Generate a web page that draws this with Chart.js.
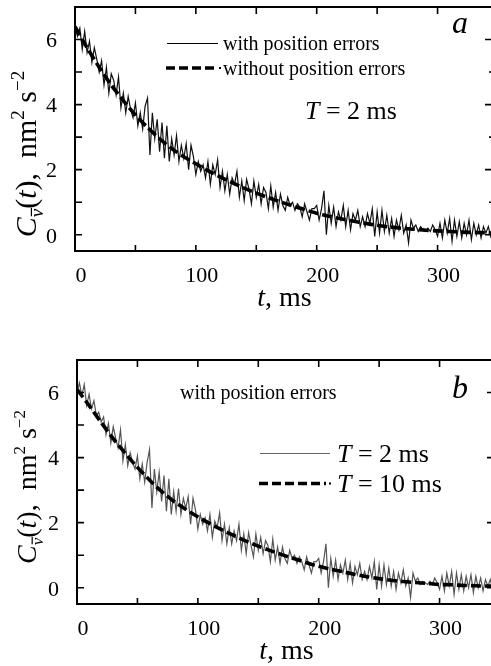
<!DOCTYPE html>
<html>
<head>
<meta charset="utf-8">
<script src="https://cdn.jsdelivr.net/npm/chart.js@4.4.0/dist/chart.umd.min.js"></script>
<style>
  html, body { margin: 0; padding: 0; background: #fff; overflow: hidden; width: 491px; height: 666px; }
  .panel { position: absolute; left: 0; }
</style>
</head>
<body>
<div class="panel" style="top:0"><canvas id="chartA" width="500" height="320"></canvas></div>
<div class="panel" style="top:353px"><canvas id="chartB" width="502" height="313"></canvas></div>
<script>
// time step of the noisy correlation curves, ms
const sampleStepMs = 2;

// panel a, T = 2 ms, with position errors
const noisyA = [
  6.4, 6.1, 6.35, 5.7, 6.25, 5.6, 5.95, 5.3, 5.75, 5.4,
  5.0, 5.35, 4.6, 5.15, 4.35, 4.95, 4.75, 4.3, 4.85, 3.9,
  4.35, 3.75, 4.25, 3.85, 3.6, 4.05, 3.35, 3.75, 3.25, 3.95,
  4.2, 2.45, 3.75, 2.95, 3.55, 2.55, 3.45, 2.35, 3.35, 2.25,
  2.95, 2.45, 3.05, 2.25, 2.75, 2.35, 2.8, 2.0, 2.75, 2.4,
  1.85, 2.25, 1.95, 2.15, 1.75, 2.25, 1.55, 2.15, 1.85, 2.3,
  1.45, 1.95, 1.35, 1.85, 1.25, 1.75, 1.55, 1.95, 1.15, 1.65,
  1.05, 1.7, 1.4, 0.95, 1.65, 1.15, 1.55, 0.95, 1.45, 1.3,
  0.8, 1.5, 0.85, 1.3, 0.75, 1.25, 0.9, 0.75, 1.15, 0.9,
  1.0, 0.75, 0.95, 0.85, 0.55, 0.95, 0.7, 0.45, 0.8, 0.8,
  0.9, 0.45, 0.8, 1.35, 0.0, 0.9, 0.35, 0.85, 0.25, 0.7,
  0.45, 0.9, 0.25, 0.75, 0.15, 0.65, 0.45, 0.75, 0.25, 0.55,
  0.25, 0.65, 0.35, 0.8, -0.05, 0.7, 0.05, 0.75, 0.1, 0.6,
  0.05, 0.5, -0.05, 0.45, 0.15, 0.6, 0.05, 0.3, -0.25, 0.45,
  0.2, 0.3, 0.1, 0.25, 0.15, 0.1, 0.2, 0.1, 0.3, 0.15,
  -0.05, 0.35, -0.1, 0.45, 0.05, 0.5, -0.2, 0.45, -0.05, 0.4,
  -0.1, 0.35, 0.0, 0.45, -0.15, 0.35, 0.0, 0.3, -0.1, 0.25,
  0.05, 0.25, -0.05, 0.15
];

// panel b, T = 2 ms
const noisyB = [
  6.0, 6.3, 5.9, 6.25, 5.6, 5.95, 5.5, 5.75, 5.3, 5.4,
  5.1, 5.25, 4.7, 5.05, 4.45, 4.95, 4.6, 4.3, 4.85, 3.9,
  4.4, 3.75, 4.15, 3.85, 3.65, 4.05, 3.35, 3.8, 3.25, 3.85,
  4.25, 2.45, 3.65, 2.95, 3.55, 2.65, 3.45, 2.35, 3.35, 2.25,
  2.95, 2.35, 3.05, 2.25, 2.75, 2.45, 2.8, 1.95, 2.75, 2.4,
  1.8, 2.25, 1.95, 2.15, 1.75, 2.25, 1.55, 2.05, 1.85, 2.3,
  1.45, 1.95, 1.35, 1.85, 1.35, 1.75, 1.45, 1.95, 1.15, 1.65,
  1.05, 1.7, 1.3, 0.95, 1.65, 1.15, 1.55, 1.05, 1.45, 1.3,
  0.8, 1.5, 0.85, 1.25, 0.75, 1.25, 0.9, 0.75, 1.15, 0.9,
  1.0, 0.75, 0.95, 0.8, 0.55, 0.95, 0.7, 0.45, 0.8, 0.8,
  0.9, 0.45, 0.8, 1.35, 0.0, 0.9, 0.35, 0.85, 0.25, 0.7,
  0.45, 0.85, 0.25, 0.75, 0.15, 0.65, 0.4, 0.75, 0.25, 0.5,
  0.25, 0.65, 0.3, 0.8, -0.05, 0.7, 0.05, 0.7, 0.1, 0.6,
  0.05, 0.5, -0.05, 0.45, 0.15, 0.55, 0.05, 0.3, -0.3, 0.45,
  0.2, 0.3, 0.1, 0.2, 0.15, 0.1, 0.2, 0.1, 0.3, 0.15,
  -0.05, 0.35, -0.1, 0.45, 0.05, 0.5, -0.2, 0.45, -0.05, 0.4,
  -0.1, 0.35, 0.0, 0.4, -0.15, 0.35, 0.0, 0.3, -0.1, 0.25,
  0.05, 0.25, -0.05, 0.15
];

// smooth curves (dashed)
const smoothTimes = [0, 10, 20, 30, 40, 50, 60, 70, 80, 90, 100, 110, 120, 130, 140, 150, 160, 170,
  180, 190, 200, 210, 220, 230, 240, 250, 260, 270, 280, 290, 300, 310, 320, 330, 340, 350];
const smoothA = [6.4, 5.75, 5.15, 4.6, 4.12, 3.68, 3.3, 2.95, 2.65, 2.4, 2.18, 1.97, 1.78, 1.6, 1.43, 1.28,
  1.14, 1.01, 0.89, 0.77, 0.66, 0.57, 0.49, 0.42, 0.35, 0.29, 0.24, 0.2, 0.17, 0.14, 0.12, 0.1, 0.08, 0.07, 0.06, 0.05];
const smoothB = [6.1, 5.6, 5.08, 4.58, 4.13, 3.7, 3.31, 2.96, 2.66, 2.41, 2.18, 1.97, 1.78, 1.6, 1.43, 1.28,
  1.14, 1.01, 0.89, 0.77, 0.66, 0.57, 0.49, 0.41, 0.34, 0.28, 0.23, 0.19, 0.16, 0.13, 0.1, 0.09, 0.07, 0.06, 0.05, 0.05];

const xLabels = [0, 100, 200, 300];
const yLabels = [0, 2, 4, 6];

const FAM = '"Liberation Serif", "Times New Roman", serif';
Chart.defaults.font.family = FAM;
Chart.defaults.color = '#000';

function drawRuns(ctx, runs, x, y, align) {
  let total = 0;
  runs.forEach(r => {
    ctx.font = (r.it ? 'italic ' : '') + r.size + 'px ' + FAM;
    r.w = ctx.measureText(r.t).width;
    total += r.w;
  });
  let cx = align === 'center' ? x - total / 2 : x;
  ctx.textAlign = 'left';
  ctx.textBaseline = 'alphabetic';
  ctx.fillStyle = '#000';
  runs.forEach(r => {
    const dy = r.dy || 0;
    ctx.font = (r.it ? 'italic ' : '') + r.size + 'px ' + FAM;
    ctx.fillText(r.t, cx, y + dy);
    if (r.bar) {
      ctx.lineWidth = 1.2;
      ctx.strokeStyle = '#000';
      ctx.beginPath();
      ctx.moveTo(cx + 1, y + dy - r.size * 0.62);
      ctx.lineTo(cx + r.w + 1, y + dy - r.size * 0.62);
      ctx.stroke();
    }
    cx += r.w;
  });
}

function makePanelPlugin(cfg) {
  return {
    id: 'panel',
    afterDraw(chart) {
      const ctx = chart.ctx, a = chart.chartArea;
      const xs = chart.scales.x, ys = chart.scales.y;
      ctx.save();
      // frame
      ctx.strokeStyle = '#000';
      ctx.lineWidth = 2;
      ctx.strokeRect(a.left, a.top, a.right - a.left, a.bottom - a.top);
      // inward ticks
      ctx.lineWidth = 1.6;
      ctx.beginPath();
      xs.ticks.forEach(t => {
        const k = t.value / 50;
        if (Math.abs(k - Math.round(k)) > 1e-6) return;
        const px = xs.getPixelForValue(t.value);
        ctx.moveTo(px, a.bottom); ctx.lineTo(px, a.bottom - 6);
        ctx.moveTo(px, a.top); ctx.lineTo(px, a.top + 7);
      });
      ys.ticks.forEach(t => {
        if (!Number.isInteger(t.value) || t.value < 0 || t.value > 6) return;
        const py = ys.getPixelForValue(t.value);
        ctx.moveTo(a.left, py); ctx.lineTo(a.left + 7, py);
        ctx.moveTo(a.right, py); ctx.lineTo(a.right - (t.value % 2 ? 5 : 9), py);
      });
      ctx.stroke();

      // legend samples
      cfg.lines.forEach(l => {
        ctx.strokeStyle = l.color;
        ctx.lineWidth = l.width;
        ctx.setLineDash(l.dash || []);
        ctx.beginPath();
        ctx.moveTo(l.x1, l.y); ctx.lineTo(l.x2, l.y);
        ctx.stroke();
        ctx.setLineDash([]);
        if (l.dot) {
          ctx.fillStyle = l.color;
          ctx.fillRect(l.dot - 1, l.y - 1, 2, 2);
        }
      });

      // texts
      cfg.texts.forEach(t => drawRuns(ctx, t.runs, t.x, t.y, t.align));

      // x title
      drawRuns(ctx, [{ t: 't', it: true, size: 28 }, { t: ', ms', size: 28 }],
        (a.left + a.right) / 2, a.bottom + 55, 'center');

      // y title
      const S = cfg.yTitle.size;
      ctx.translate(cfg.yTitle.x, cfg.yTitle.y);
      ctx.rotate(-Math.PI / 2);
      drawRuns(ctx, [
        { t: 'C', it: true, size: S },
        { t: 'v', it: true, size: Math.round(S * 0.62), dy: S * 0.24, bar: true },
        { t: '(', size: S },
        { t: 't', it: true, size: S },
        { t: '),', size: S },
        { t: '  nm', size: S },
        { t: '2', size: Math.round(S * 0.62), dy: -S * 0.4 },
        { t: ' s', size: S },
        { t: '\u22122', size: Math.round(S * 0.62), dy: -S * 0.4 }
      ], 0, 0, 'center');
      ctx.restore();
    }
  };
}

function makeChart(id, noisy, smooth, noisyColor, yWidth, xHeight, cfg) {
  return new Chart(document.getElementById(id), {
    type: 'line',
    data: {
      datasets: [
        {
          data: smooth.map((v, i) => ({ x: smoothTimes[i], y: v })),
          borderColor: '#000',
          borderWidth: 3.6,
          borderDash: [10, 4],
          pointRadius: 0,
          tension: 0.3,
          order: 0
        },
        {
          data: noisy.map((v, i) => ({ x: i * sampleStepMs, y: v })),
          borderColor: noisyColor,
          borderWidth: 1.2,
          pointRadius: 0,
          tension: 0,
          order: 1
        }
      ]
    },
    options: {
      responsive: false,
      animation: false,
      layout: { padding: { top: 7, right: 6, left: 0, bottom: 0 } },
      plugins: { legend: { display: false }, tooltip: { enabled: false } },
      scales: {
        x: {
          type: 'linear',
          min: 0,
          max: 346.7,
          grid: { display: false },
          border: { display: false },
          afterFit: s => { s.height = xHeight; s.paddingLeft = 0; s.paddingRight = 0; },
          ticks: {
            stepSize: 50,
            includeBounds: false,
            padding: 4,
            labelOffset: 6,
            maxRotation: 0,
            autoSkip: false,
            font: { size: 22 },
            callback: v => xLabels.includes(v) ? String(v) : ''
          }
        },
        y: {
          min: -0.5,
          max: 7,
          grid: { display: false },
          border: { display: false },
          afterFit: s => { s.width = yWidth; s.paddingTop = 0; s.paddingBottom = 0; },
          ticks: {
            stepSize: 1,
            includeBounds: false,
            padding: 10,
            labelOffset: 2,
            autoSkip: false,
            font: { size: 22 },
            callback: v => yLabels.includes(v) ? String(v) : ''
          }
        }
      }
    },
    plugins: [makePanelPlugin(cfg)]
  });
}

makeChart('chartA', noisyA, smoothA, '#111', 75, 69, {
  yTitle: { x: 36, y: 154, size: 30 },
  lines: [
    { x1: 167, x2: 218, y: 43.5, width: 1, color: '#000' },
    { x1: 166, x2: 216, y: 68, width: 3.6, color: '#000', dash: [9, 4], dot: 220 }
  ],
  texts: [
    { runs: [{ t: 'a', it: true, size: 32 }], x: 452, y: 33 },
    { runs: [{ t: 'with position errors', size: 20 }], x: 223, y: 50 },
    { runs: [{ t: 'without position errors', size: 20 }], x: 223, y: 75 },
    { runs: [{ t: 'T', it: true, size: 26 }, { t: ' = 2 ms', size: 26 }], x: 305, y: 119 }
  ]
});

makeChart('chartB', noisyB, smoothB, '#555', 77, 62, {
  yTitle: { x: 36, y: 134, size: 28 },
  lines: [
    { x1: 260, x2: 330, y: 100.5, width: 1, color: '#666' },
    { x1: 259, x2: 326, y: 130.5, width: 3.6, color: '#000', dash: [9, 4], dot: 330 }
  ],
  texts: [
    { runs: [{ t: 'with position errors', size: 20 }], x: 180, y: 46 },
    { runs: [{ t: 'b', it: true, size: 32 }], x: 452, y: 45 },
    { runs: [{ t: 'T', it: true, size: 26 }, { t: ' = 2 ms', size: 26 }], x: 337, y: 109 },
    { runs: [{ t: 'T', it: true, size: 26 }, { t: ' = 10 ms', size: 26 }], x: 337, y: 139 }
  ]
});
</script>
</body>
</html>
